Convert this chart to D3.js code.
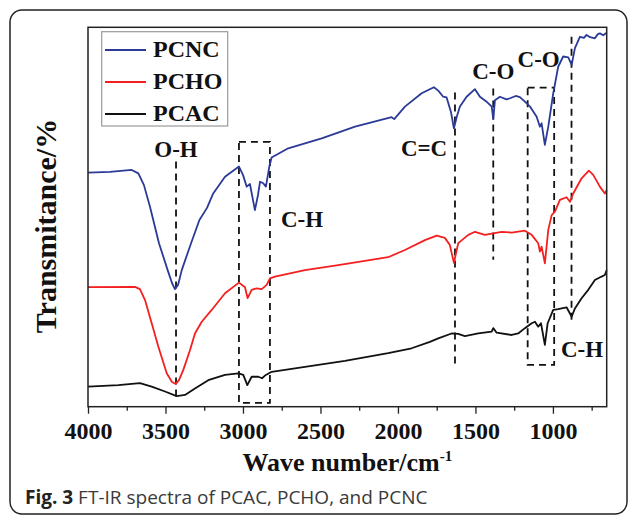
<!DOCTYPE html>
<html>
<head>
<meta charset="utf-8">
<script src="https://cdn.jsdelivr.net/npm/d3@7"></script>
<style>
  body { margin: 0; background: #fff; }
  svg { display: block; }
</style>
</head>
<body>
<div id="chart"></div>
<script>
// FT-IR spectra, [wavenumber cm-1, transmittance (arb. %)]
const pcnc = [
  [4000, 61.7], [3858, 61.9], [3718, 62.4], [3675, 61.5], [3639, 58.4], [3600, 52.7],
  [3542, 43.1], [3486, 36.0], [3458, 32.6], [3439, 31.0], [3419, 32.1], [3395, 36.0],
  [3335, 43.1], [3281, 49.2], [3232, 52.4], [3192, 56.2], [3116, 60.6], [3026, 63.3],
  [3000, 61.1], [2976, 58.0], [2955, 58.7], [2923, 51.8], [2903, 55.8], [2890, 59.3],
  [2869, 58.9], [2852, 58.0], [2830, 63.3], [2815, 65.7], [2708, 68.1], [2492, 70.7],
  [2277, 73.8], [2041, 76.3], [2024, 75.8], [1955, 79.1], [1847, 82.6], [1768, 84.2],
  [1740, 83.3], [1708, 81.7], [1686, 81.5], [1658, 77.7], [1639, 73.4], [1619, 76.6],
  [1600, 79.1], [1557, 81.7], [1503, 83.7], [1471, 81.7], [1428, 80.4], [1395, 79.1],
  [1385, 75.8], [1374, 80.8], [1342, 81.7], [1300, 81.0], [1277, 81.3], [1240, 81.9],
  [1213, 81.6], [1181, 80.4], [1148, 79.1], [1105, 76.4], [1084, 73.8], [1073, 74.7],
  [1052, 69.0], [1030, 73.8], [998, 82.6], [966, 89.6], [934, 92.3], [901, 92.1],
  [879, 90.1], [858, 94.5], [826, 97.5], [800, 97.2], [783, 98.0], [760, 97.4],
  [729, 97.1], [710, 98.2], [697, 98.4], [675, 97.9], [653, 98.6]
];
const pcho = [
  [4000, 31.5], [3697, 31.6], [3665, 31.0], [3632, 28.1], [3589, 22.0], [3546, 15.8],
  [3492, 8.8], [3458, 6.5], [3434, 6.0], [3413, 7.0], [3385, 9.7], [3342, 14.9],
  [3310, 19.3], [3266, 22.4], [3202, 25.5], [3116, 29.9], [3026, 32.7], [2987, 31.5],
  [2970, 28.6], [2944, 30.8], [2912, 31.2], [2879, 31.0], [2847, 32.1], [2826, 33.8],
  [2794, 34.3], [2600, 36.0], [2385, 37.3], [2063, 39.4], [1955, 41.3], [1826, 43.9],
  [1750, 45.1], [1697, 44.5], [1665, 42.6], [1639, 37.9], [1611, 43.1], [1546, 45.3],
  [1503, 46.1], [1439, 45.3], [1385, 45.7], [1331, 46.1], [1266, 45.9], [1181, 46.4],
  [1137, 45.3], [1095, 43.1], [1084, 40.9], [1073, 42.2], [1052, 37.8], [1030, 46.6],
  [1008, 50.5], [987, 51.4], [955, 54.5], [912, 55.2], [890, 54.0], [869, 56.2],
  [815, 60.2], [768, 62.2], [740, 61.1], [697, 58.0], [665, 56.2], [653, 57.1]
];
const pcac = [
  [4000, 5.3], [3804, 5.7], [3665, 6.2], [3589, 5.3], [3503, 4.0], [3428, 2.8],
  [3374, 3.1], [3310, 4.8], [3224, 7.0], [3116, 8.4], [3030, 8.8], [2998, 8.4],
  [2972, 5.7], [2944, 7.9], [2901, 7.9], [2877, 7.5], [2858, 8.2], [2815, 9.2],
  [2600, 10.5], [2342, 12.1], [2063, 14.1], [1912, 15.4], [1794, 17.1], [1740, 18.0],
  [1654, 19.3], [1611, 19.2], [1568, 18.6], [1482, 19.3], [1395, 19.8], [1385, 20.7],
  [1363, 19.5], [1266, 18.9], [1224, 19.3], [1181, 20.7], [1137, 22.0], [1116, 22.4],
  [1095, 21.1], [1077, 22.0], [1052, 16.3], [1034, 22.0], [998, 25.5], [966, 25.7],
  [912, 26.2], [879, 23.7], [858, 25.9], [815, 28.6], [772, 30.8], [729, 33.4],
  [686, 34.3], [665, 34.7], [653, 36.0]
];

const seriesNames = ["PCNC", "PCHO", "PCAC"];
const seriesColors = ["#2b3a97", "#f42020", "#111111"];
const seriesData = [pcnc, pcho, pcac];

const majorTicks = [4000, 3500, 3000, 2500, 2000, 1500, 1000];
const minorTicks = [3750, 3250, 2750, 2250, 1750, 1250, 750];

// dashed guide lines: [wavenumber, top T, bottom T]
const guideLines = [
  [3432, 64.6, 2.6],
  [1632, 82.8, 11.3],
  [1385, 83.9, 38.7],
  [880, 97.5, 22.4]
];
// dashed boxes: [wn left, wn right, top T, bottom T]
const guideBoxes = [
  [3026, 2826, 69.8, 1.0],
  [1163, 992, 84.1, 11.0]
];
// band labels: [text, wavenumber, T, anchor]
const bandLabels = [
  ["O-H", 3432, 65.9, "middle"],
  ["C-H", 2755, 47.4, "start"],
  ["C=C", 1682, 66.1, "end"],
  ["C-O", 1385, 86.4, "middle"],
  ["C-O", 1092, 89.6, "middle"],
  ["C-H", 948, 13.0, "start"]
];

const width = 629, height = 516;
const plot = { left: 88, top: 27.3, right: 606.7, bottom: 406.7 };
const serif = "'Liberation Serif', 'Times New Roman', serif";

const svg = d3.select("#chart").append("svg")
  .attr("width", width)
  .attr("height", height);

// outer figure frame
svg.append("rect")
  .attr("x", 10).attr("y", 10)
  .attr("width", 617).attr("height", 504)
  .attr("rx", 12)
  .attr("fill", "#fff")
  .attr("stroke", "#222")
  .attr("stroke-width", 1.5);

const x = d3.scaleLinear().domain([4000, 653]).range([plot.left, plot.right]);
const y = d3.scaleLinear().domain([0, 100]).range([plot.bottom, plot.top]);

// minor ticks
svg.append("g")
  .attr("transform", `translate(0,${plot.bottom})`)
  .call(d3.axisBottom(x).tickValues(minorTicks).tickSize(4).tickFormat(""))
  .call(g => g.select(".domain").remove())
  .call(g => g.selectAll("line").attr("stroke", "#222").attr("stroke-width", 1.3));

// major ticks + labels
svg.append("g")
  .attr("transform", `translate(0,${plot.bottom})`)
  .call(d3.axisBottom(x).tickValues(majorTicks).tickSize(7).tickFormat(d3.format("d")))
  .attr("font-family", serif)
  .attr("font-weight", "bold")
  .attr("font-size", 24)
  .call(g => g.select(".domain").remove())
  .call(g => g.selectAll("line").attr("stroke", "#222").attr("stroke-width", 1.3))
  .call(g => g.selectAll("text")
    .attr("y", 32).attr("dy", 0)
    .attr("fill", "#111"));

// dashed guides
const guides = svg.append("g")
  .attr("stroke", "#111")
  .attr("stroke-width", 1.8)
  .attr("stroke-dasharray", "7,5")
  .attr("fill", "none");

guides.selectAll("line")
  .data(guideLines)
  .enter().append("line")
  .attr("x1", d => x(d[0])).attr("x2", d => x(d[0]))
  .attr("y1", d => y(d[1])).attr("y2", d => y(d[2]));

guides.selectAll("rect")
  .data(guideBoxes)
  .enter().append("rect")
  .attr("x", d => x(d[0]))
  .attr("y", d => y(d[2]))
  .attr("width", d => x(d[1]) - x(d[0]))
  .attr("height", d => y(d[3]) - y(d[2]));

// spectra
const line = d3.line()
  .x(d => x(d[0]))
  .y(d => y(d[1]));

svg.append("g")
  .selectAll("path")
  .data(seriesData)
  .enter().append("path")
  .attr("d", line)
  .attr("fill", "none")
  .attr("stroke", (d, i) => seriesColors[i])
  .attr("stroke-width", 1.8)
  .attr("stroke-linejoin", "round");

// plot frame
svg.append("rect")
  .attr("x", plot.left).attr("y", plot.top)
  .attr("width", plot.right - plot.left)
  .attr("height", plot.bottom - plot.top)
  .attr("fill", "none")
  .attr("stroke", "#222")
  .attr("stroke-width", 1.5);

// band labels
svg.append("g")
  .selectAll("text")
  .data(bandLabels)
  .enter().append("text")
  .attr("x", d => x(d[1]))
  .attr("y", d => y(d[2]))
  .attr("text-anchor", d => d[3])
  .attr("fill", "#111")
  .style("font-family", serif)
  .style("font-weight", "bold")
  .style("font-size", "23px")
  .text(d => d[0]);

// legend
const legend = svg.append("g");
legend.append("rect")
  .attr("x", 101.7).attr("y", 31.7)
  .attr("width", 126).attr("height", 94.3)
  .attr("fill", "#fff")
  .attr("stroke", "#999")
  .attr("stroke-width", 1.2);

const rows = legend.selectAll("g.row")
  .data(seriesNames)
  .enter().append("g")
  .attr("class", "row")
  .attr("transform", (d, i) => `translate(0,${50 + i * 32})`);

rows.append("line")
  .attr("x1", 105).attr("x2", 146)
  .attr("stroke", (d, i) => seriesColors[i])
  .attr("stroke-width", 1.8);

rows.append("text")
  .attr("x", 153)
  .attr("y", 7)
  .attr("fill", "#111")
  .style("font-family", serif)
  .style("font-weight", "bold")
  .style("font-size", "24px")
  .text(d => d);

// axis titles
const xTitle = svg.append("text")
  .attr("x", (plot.left + plot.right) / 2)
  .attr("y", 471)
  .attr("text-anchor", "middle")
  .attr("fill", "#111")
  .style("font-family", serif)
  .style("font-weight", "bold")
  .style("font-size", "26px");
xTitle.append("tspan").text("Wave number/cm");
xTitle.append("tspan")
  .attr("dy", -10)
  .style("font-size", "15px")
  .text("-1");

svg.append("text")
  .attr("transform", "translate(56,226) rotate(-90)")
  .attr("text-anchor", "middle")
  .attr("fill", "#111")
  .style("font-family", serif)
  .style("font-weight", "bold")
  .style("font-size", "30px")
  .text("Transmitance/%");

// caption
const caption = svg.append("text")
  .attr("x", 25)
  .attr("y", 504)
  .attr("fill", "#3a3a3a")
  .style("font-family", "'Open Sans', sans-serif")
  .style("font-size", "19px");
caption.append("tspan")
  .style("font-weight", "bold")
  .attr("fill", "#222")
  .text("Fig. 3");
caption.append("tspan").text(" FT-IR spectra of PCAC, PCHO, and PCNC");
</script>
</body>
</html>
